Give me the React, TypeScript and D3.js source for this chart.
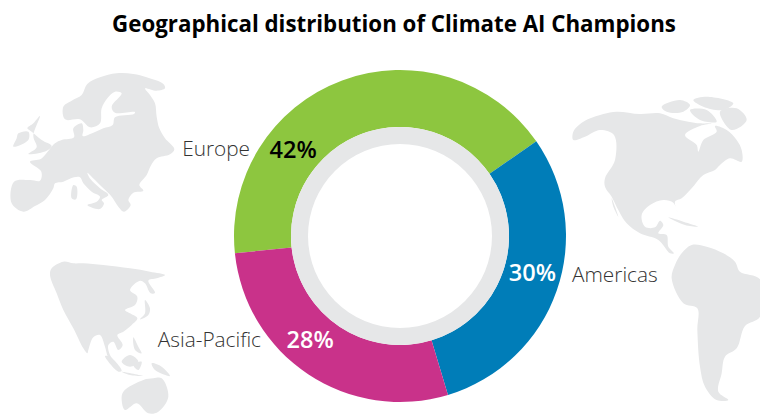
import React from "react";
import * as d3 from "d3";

const WIDTH = 760;
const HEIGHT = 417;

const regions = ["Europe", "Americas", "Asia-Pacific"];
const shares = [42, 30, 28];
const sliceColors = ["#8DC63F", "#007DB8", "#C9328A"];
const shareColors = ["#000000", "#ffffff", "#ffffff"];
// where the share sits along its slice, degrees clockwise from the top
const shareAngles = [309, 105.6, 220.8];
const nameAnchors = ["end", "start", "end"];
const nameX = [250, 572, 261];
const nameY = [156, 282, 347];

type Pt = [number, number];

const europe: Pt[][] = [
  [[190,140],[215,122],[245,105],[262,72],[300,52],[350,40],[400,42],[440,52],[490,72],[495,85],[470,92],[435,85],[450,105],[465,130],[470,170],[478,205],[495,235],[523,268],[510,283],[470,295],[452,318],[440,345],[418,375],[430,392],[400,398],[385,420],[392,435],[372,455],[355,440],[345,425],[335,410],[310,385],[285,360],[262,338],[272,358],[300,385],[325,405],[305,420],[312,430],[300,447],[262,435],[290,425],[300,410],[275,395],[250,370],[240,352],[222,352],[190,365],[165,370],[160,385],[135,420],[105,438],[70,455],[35,430],[42,365],[90,360],[120,362],[124,335],[90,305],[122,297],[135,285],[165,250],[185,240],[222,232],[220,205],[245,190],[250,210],[248,228],[280,218],[310,205],[338,195],[345,172],[402,162],[405,156],[345,158],[335,140],[365,100],[345,95],[322,115],[305,145],[300,190],[270,202],[240,178],[195,178]],
  [[120,168],[100,190],[82,205],[95,215],[125,240],[155,258],[140,272],[85,282],[110,262],[100,228]],
  [[55,220],[85,215],[85,240],[40,260],[50,235]],
  [[220,375],[230,380],[228,418],[215,415]],
];
const asia: Pt[][] = [
  [[60,75],[65,55],[100,35],[130,40],[160,40],[220,45],[300,55],[360,65],[405,75],[380,85],[355,92],[375,128],[362,130],[345,100],[330,92],[300,120],[322,140],[315,165],[285,180],[300,190],[322,205],[305,225],[280,245],[262,255],[278,285],[265,300],[250,275],[235,285],[240,315],[262,345],[235,322],[225,290],[210,255],[190,262],[175,300],[172,310],[160,295],[130,235],[100,180],[80,130]],
  [[345,150],[360,175],[355,195],[330,208],[345,190]],
  [[310,262],[325,290],[335,310],[315,300]],
  [[275,335],[300,315],[325,335],[300,350]],
  [[225,318],[240,320],[275,362],[265,365]],
  [[275,365],[340,378],[300,375]],
  [[365,340],[395,350],[420,378],[375,360]],
  [[310,345],[335,335],[325,360]],
  [[280,425],[340,390],[370,385],[395,385],[415,440],[385,485],[355,490],[320,460],[285,480],[275,450]],
];
const americas: Pt[][] = [
  [[40,125],[70,95],[130,72],[170,65],[240,72],[300,70],[340,85],[385,95],[420,100],[455,100],[420,108],[375,135],[410,165],[415,185],[430,150],[470,125],[465,108],[500,120],[530,150],[545,180],[545,215],[510,205],[480,225],[465,240],[430,255],[395,295],[365,325],[345,335],[352,365],[340,338],[310,330],[270,345],[245,375],[255,410],[285,412],[300,392],[310,405],[295,430],[320,435],[325,470],[342,490],[330,490],[295,450],[240,430],[200,400],[175,360],[155,320],[135,290],[135,265],[165,210],[162,135],[120,120],[75,140],[40,150]],
  [[335,565],[345,525],[365,490],[395,465],[440,470],[490,490],[525,515],[540,545],[600,568],[600,680],[555,708],[530,775],[495,800],[485,850],[475,905],[505,930],[470,930],[435,890],[420,830],[412,720],[412,655],[370,640]],
  [[305,50],[360,30],[390,45],[370,65],[320,65]],
  [[400,30],[440,20],[520,40],[490,60],[430,50]],
  [[390,60],[440,60],[470,95],[420,90]],
  [[480,65],[530,55],[560,90],[515,120]],
  [[155,325],[175,380],[160,350]],
  [[325,382],[370,395],[415,410],[375,405]],
];

const outline = d3.line().curve(d3.curveCatmullRomClosed.alpha(0.5));

function Landmass({ shapes, x, y }: { shapes: Pt[][]; x: number; y: number }) {
  return (
    <g transform={`translate(${x},${y}) scale(${1 / 3})`} fill="#E6E7E8">
      {shapes.map((s, i) => (
        <path key={i} d={outline(s) ?? ""} />
      ))}
    </g>
  );
}

export default function App() {
  const cx = 400;
  const cy = 236;
  const rOuter = 166;
  const rRing = 109;
  const rHole = 92;

  const toRad = (deg: number) => (deg * Math.PI) / 180;
  // the Europe slice starts on the lower left, and the rest follow clockwise
  const startDeg = 264;
  const pie = d3.pie<number>().sort(null).startAngle(toRad(startDeg)).endAngle(toRad(startDeg + 360));
  const arcs = pie(shares);
  const arc = d3.arc<d3.PieArcDatum<number>>().innerRadius(rRing).outerRadius(rOuter);
  const ring = d3.arc()({ innerRadius: rHole, outerRadius: rRing, startAngle: 0, endAngle: 2 * Math.PI }) ?? "";
  const font = "'Open Sans', 'Noto Sans', sans-serif";

  return (
    <svg
      width={WIDTH}
      height={HEIGHT}
      viewBox={`0 0 ${WIDTH} ${HEIGHT}`}
      style={{ position: "absolute", left: 0, top: 0, background: "#fff" }}
      fontFamily={font}
    >
      <Landmass shapes={europe} x={0} y={60} />
      <Landmass shapes={asia} x={30} y={250} />
      <Landmass shapes={americas} x={560} y={90} />

      <text x={394} y={32} textAnchor="middle" fontSize={22.3} fontWeight={700} fill="#000">
        Geographical distribution of Climate AI Champions
      </text>

      <g transform={`translate(${cx},${cy})`}>
        {arcs.map((d, i) => (
          <path key={regions[i]} d={arc(d) ?? ""} fill={sliceColors[i]} />
        ))}
        <path d={ring} fill="#E6E7E8" />
        {arcs.map((d, i) => {
          const a = toRad(shareAngles[i]);
          const [lx, ly] = arc.centroid({ ...d, startAngle: a, endAngle: a });
          return (
            <text
              key={regions[i]}
              x={lx}
              y={ly}
              dy="0.35em"
              textAnchor="middle"
              fontSize={23.5}
              fontWeight={600}
              fill={shareColors[i]}
            >
              {shares[i]}%
            </text>
          );
        })}
      </g>

      {regions.map((name, i) => (
        <text
          key={name}
          x={nameX[i]}
          y={nameY[i]}
          textAnchor={nameAnchors[i] as "start" | "end"}
          fontSize={20.8}
          fontWeight={300}
          fill="#333"
        >
          {name}
        </text>
      ))}
    </svg>
  );
}
